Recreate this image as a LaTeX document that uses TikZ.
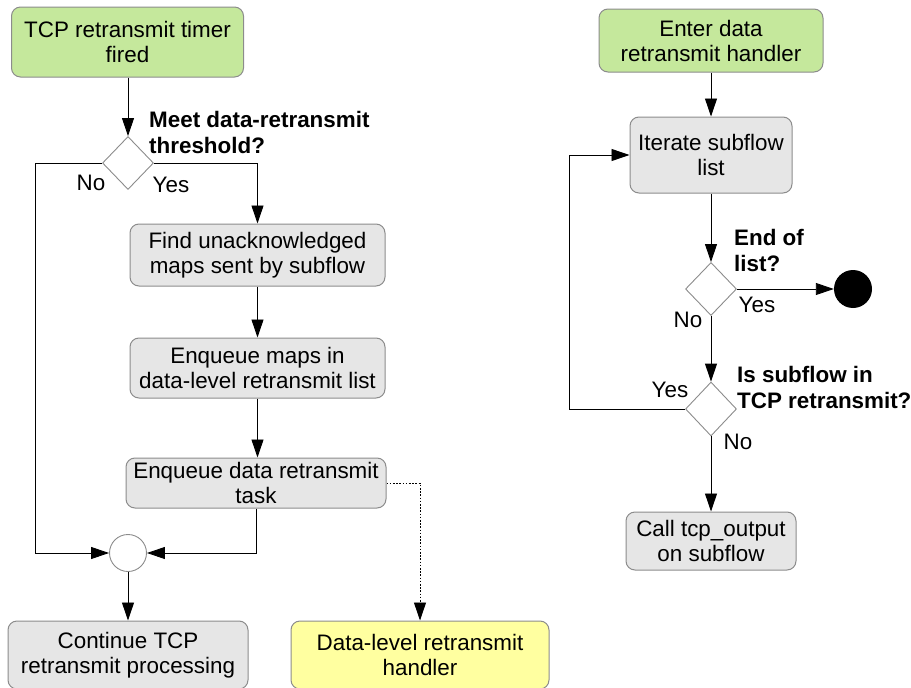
\documentclass[tikz,border=0pt]{standalone}
\usepackage{fontspec}
\setmainfont{Liberation Sans}
\usetikzlibrary{arrows.meta,shapes.geometric}
\definecolor{boxline}{RGB}{140,140,140}
\definecolor{boxgrey}{RGB}{230,230,230}
\definecolor{startgreen}{RGB}{197,232,156}
\definecolor{handleryellow}{RGB}{255,255,160}
\begin{document}
\begin{tikzpicture}[x=1pt,y=-1pt,
  txt/.style={font=\fontsize{22.4}{25}\selectfont},
  box/.style={txt, draw=boxline, line width=1pt, rounded corners=9pt,
    align=center, inner sep=0pt},
  greybox/.style={box, fill=boxgrey},
  greenbox/.style={box, fill=startgreen},
  yellowbox/.style={box, fill=handleryellow},
  decision/.style={diamond, draw=boxline, line width=0.9pt, fill=white,
    inner sep=0pt},
  question/.style={font=\fontsize{22.4}{26}\selectfont\bfseries,
    align=left, anchor=west, inner sep=0pt},
  lbl/.style={txt, inner sep=0pt},
  arr/.style={line width=0.9pt, -{Triangle[length=18pt,width=12pt]}},
]
\useasboundingbox (0,0) rectangle (911,688);

% ---- TCP retransmit timer path ----
\node[greenbox, minimum width=232pt, minimum height=70pt] (start) at (127.5,42)
  {TCP retransmit timer\\fired};
\node[decision, minimum width=51pt, minimum height=53pt] (thr) at (128,163) {};
\node[question] (thrq) at (149,132) {Meet data-retransmit\\threshold?};
\node[greybox, minimum width=255pt, minimum height=62pt] (find) at (257.5,255)
  {Find unacknowledged\\maps sent by subflow};
\node[greybox, minimum width=255pt, minimum height=60pt] (enqmaps) at (257.5,368)
  {Enqueue maps in\\data-level retransmit list};
\node[greybox, minimum width=260pt, minimum height=50pt] (enqtask) at (256,483)
  {Enqueue data retransmit\\task};
\node[circle, draw=boxline, line width=0.9pt, fill=white, minimum size=37pt,
  inner sep=0pt] (merge) at (128,553) {};
\node[greybox, minimum width=240pt, minimum height=68pt] (cont) at (128,655)
  {Continue TCP\\retransmit processing};
\node[yellowbox, minimum width=258pt, minimum height=68pt] (handler) at (420,655)
  {Data-level retransmit\\handler};

\node[lbl] (thrno) at (91,183) {No};
\node[lbl] (thryes) at (171,185) {Yes};
\coordinate (nocorner) at (35,553);

\draw[arr] (start.south -| thr.north) -- (thr.north);
\draw[arr] (thr.west) -| (nocorner) -- (merge.west);
\draw[arr] (thr.east) -| (find.north);
\draw[arr] (find.south) -- (enqmaps.north);
\draw[arr] (enqmaps.south) -- (enqmaps.south |- enqtask.north);
\draw[arr] (enqtask.south) |- (merge.east);
\draw[arr, dash pattern=on 1.6pt off 1.6pt] (enqtask.east) -| (handler.north);
\draw[arr] (merge.south) -- (cont.north);

% ---- data retransmit handler ----
\node[greenbox, minimum width=224pt, minimum height=63pt] (enter) at (711,40.5)
  {Enter data\\retransmit handler};
\node[greybox, minimum width=162pt, minimum height=76pt] (iter) at (711,155)
  {Iterate subflow\\list};
\node[decision, minimum width=51pt, minimum height=53pt] (eol) at (711,289) {};
\node[question] (eolq) at (734,250) {End of\\list?};
\node[circle, fill=black, minimum size=38pt, inner sep=0pt] (final) at (853,289) {};
\node[decision, minimum width=51pt, minimum height=54pt] (inrtx) at (711,409) {};
\node[question] (inrtxq) at (737,387) {Is subflow in\\TCP retransmit?};
\node[greybox, minimum width=170pt, minimum height=58pt] (output) at (711,541)
  {Call tcp\_output\\on subflow};

\node[lbl] (eolyes) at (757,305) {Yes};
\node[lbl] (eolno) at (688,320) {No};
\node[lbl] (inrtxyes) at (670,390) {Yes};
\node[lbl] (inrtxno) at (738,442) {No};
\coordinate (loopcorner) at (569,155);

\draw[arr] (enter.south) -- (iter.north);
\draw[arr] (iter.south) -- (eol.north);
\draw[arr] (eol.east) -- (final.west);
\draw[arr] (eol.south) -- (inrtx.north);
\draw[arr] (inrtx.south) -- (output.north);
\draw[arr] (inrtx.west) -| (loopcorner) -- (iter.west);
\end{tikzpicture}
\end{document}
